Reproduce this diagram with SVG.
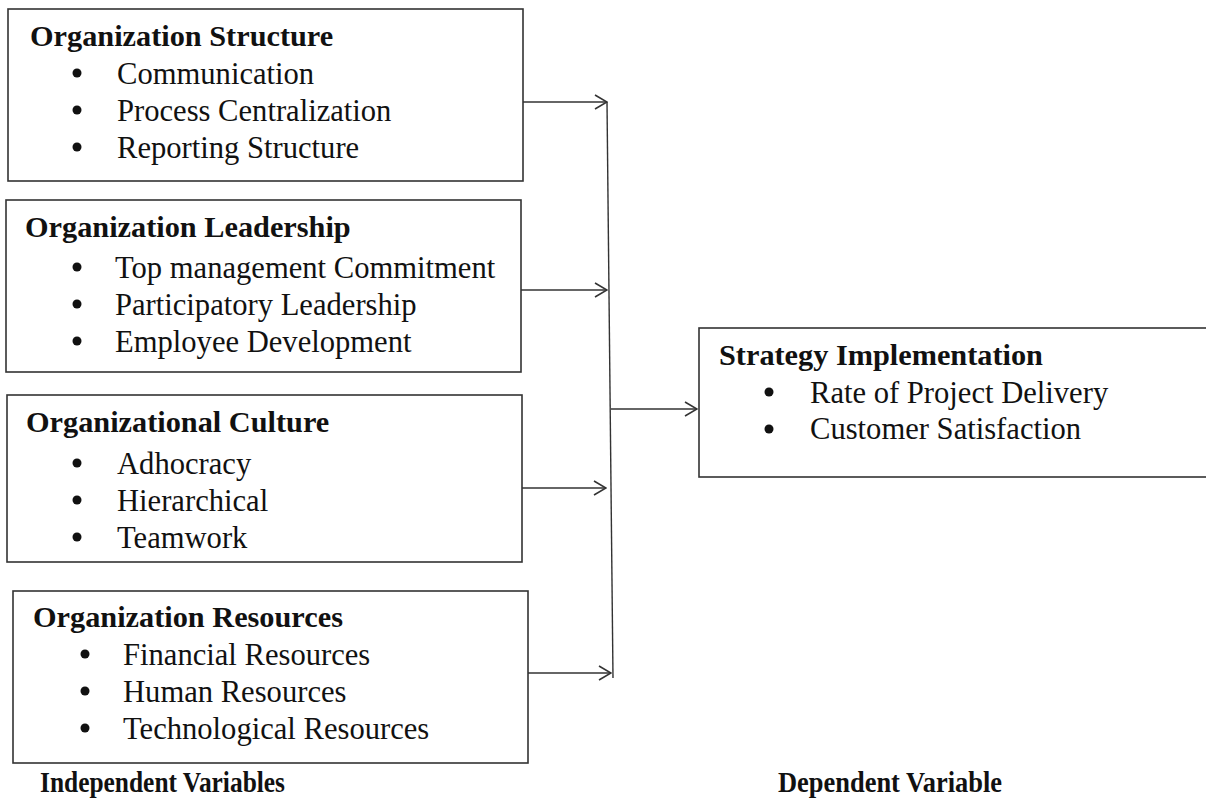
<svg xmlns="http://www.w3.org/2000/svg" width="1206" height="798" viewBox="0 0 1206 798">
<style>
.box{fill:#fff;stroke:#333;stroke-width:1.6}
.t{font-family:"Liberation Serif","Times New Roman",serif;font-weight:bold;font-size:30.3px;fill:#111}
.i{font-family:"Liberation Serif","Times New Roman",serif;font-size:30.6px;fill:#111}
.b{fill:#111}
.c{fill:none;stroke:#333;stroke-width:1.4}
.lab{font-family:"Liberation Serif","Times New Roman",serif;font-weight:bold;font-size:30px;fill:#111}
</style>
<defs>
<marker id="ah" viewBox="0 0 14 16" refX="13" refY="8" markerWidth="14" markerHeight="16" markerUnits="userSpaceOnUse" orient="auto">
<path d="M1,1 L13,8 L1,15" fill="none" stroke="#333" stroke-width="1.6"/>
</marker>
</defs>
<rect width="1206" height="798" fill="#fff"/>
<g id="connectors">
<line class="c" x1="607" y1="102" x2="613" y2="678" stroke="#777"/>
<line class="c" x1="523" y1="102" x2="607" y2="102" marker-end="url(#ah)"/>
<line class="c" x1="521" y1="290" x2="607" y2="290" marker-end="url(#ah)"/>
<line class="c" x1="522" y1="488" x2="606" y2="488" marker-end="url(#ah)"/>
<line class="c" x1="528" y1="673" x2="611" y2="673" marker-end="url(#ah)"/>
<line class="c" x1="611" y1="409" x2="697" y2="409" marker-end="url(#ah)"/>
</g>
<g id="org-structure">
<rect class="box" x="8" y="9" width="515" height="172"/>
<text class="t" x="30" y="46">Organization Structure</text>
<circle class="b" cx="77" cy="73" r="4.5"/><text class="i" x="117" y="84">Communication</text>
<circle class="b" cx="77" cy="110" r="4.5"/><text class="i" x="117" y="121">Process Centralization</text>
<circle class="b" cx="77" cy="147" r="4.5"/><text class="i" x="117" y="158">Reporting Structure</text>
</g>
<g id="org-leadership">
<rect class="box" x="6" y="200" width="515" height="172"/>
<text class="t" x="25" y="237">Organization Leadership</text>
<circle class="b" cx="77" cy="267" r="4.5"/><text class="i" x="115" y="278">Top management Commitment</text>
<circle class="b" cx="77" cy="304" r="4.5"/><text class="i" x="115" y="315">Participatory Leadership</text>
<circle class="b" cx="77" cy="341" r="4.5"/><text class="i" x="115" y="352">Employee Development</text>
</g>
<g id="org-culture">
<rect class="box" x="7" y="395" width="515" height="167"/>
<text class="t" x="26" y="432">Organizational Culture</text>
<circle class="b" cx="77" cy="463" r="4.5"/><text class="i" x="117" y="474">Adhocracy</text>
<circle class="b" cx="77" cy="500" r="4.5"/><text class="i" x="117" y="511">Hierarchical</text>
<circle class="b" cx="77" cy="537" r="4.5"/><text class="i" x="117" y="548">Teamwork</text>
</g>
<g id="org-resources">
<rect class="box" x="13" y="591" width="515" height="172"/>
<text class="t" x="33" y="627">Organization Resources</text>
<circle class="b" cx="85" cy="654" r="4.5"/><text class="i" x="123" y="665">Financial Resources</text>
<circle class="b" cx="85" cy="691" r="4.5"/><text class="i" x="123" y="702">Human Resources</text>
<circle class="b" cx="85" cy="728" r="4.5"/><text class="i" x="123" y="739">Technological Resources</text>
</g>
<g id="strategy-implementation">
<rect class="box" x="699" y="328" width="520" height="149"/>
<text class="t" x="719" y="365">Strategy Implementation</text>
<circle class="b" cx="769" cy="392" r="4.5"/><text class="i" x="810" y="403">Rate of Project Delivery</text>
<circle class="b" cx="769" cy="429" r="4.5"/><text class="i" x="810" y="439">Customer Satisfaction</text>
</g>
<g id="labels">
<text class="lab" x="40" y="792" textLength="245" lengthAdjust="spacingAndGlyphs">Independent Variables</text>
<text class="lab" x="778" y="792" textLength="224" lengthAdjust="spacingAndGlyphs">Dependent Variable</text>
</g>
</svg>
